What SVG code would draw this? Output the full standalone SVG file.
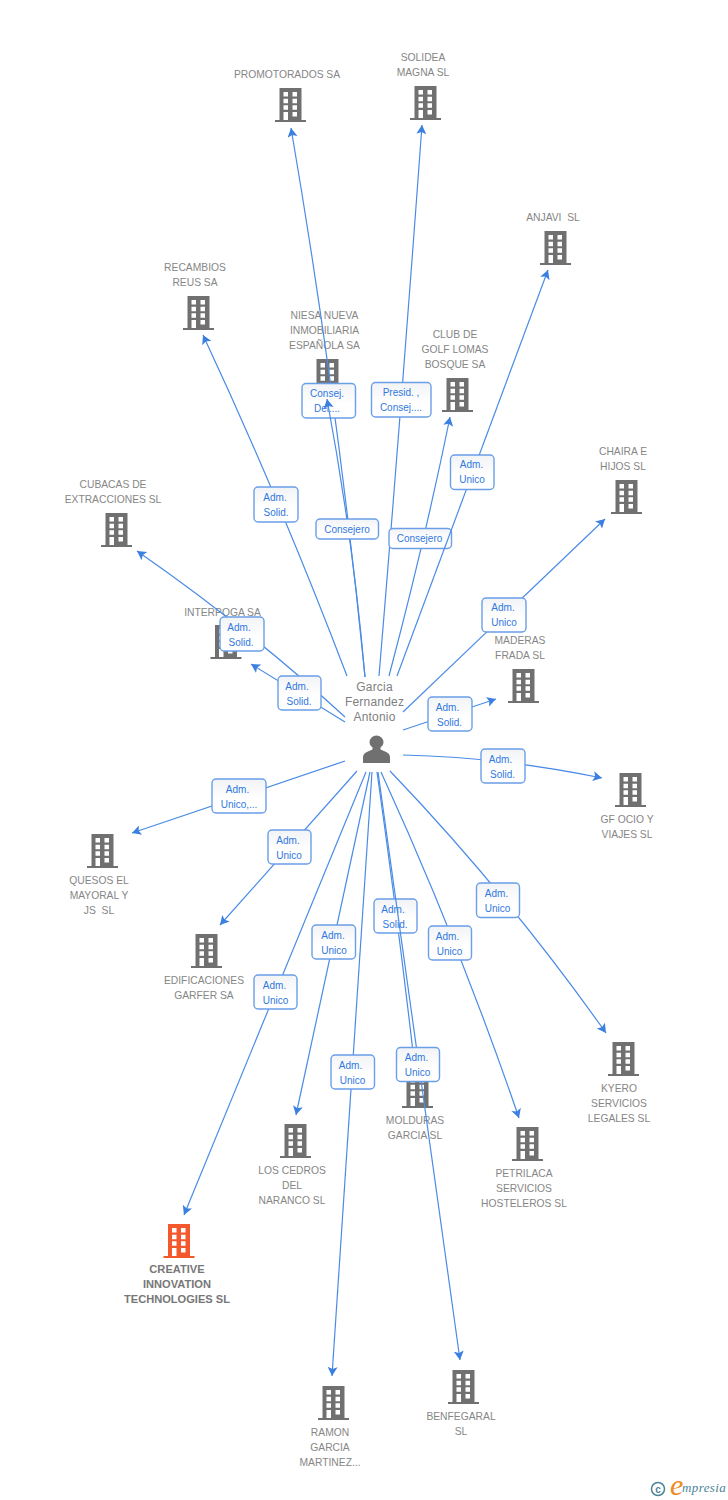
<svg xmlns="http://www.w3.org/2000/svg" width="728" height="1500" viewBox="0 0 728 1500">
<style>
.n{font:10.3px "Liberation Sans",Arial,sans-serif;fill:#868686;text-anchor:middle;white-space:pre}
.c{font:bold 11.1px "Liberation Sans",Arial,sans-serif;fill:#777;text-anchor:middle}
.p{font:12px "Liberation Sans",Arial,sans-serif;fill:#808080;text-anchor:middle;letter-spacing:.2px}
.l{font:10px "Liberation Sans",Arial,sans-serif;fill:#2f78e0;text-anchor:middle}
.e{fill:none;stroke:#4a8be6;stroke-width:1.2;marker-end:url(#a)}
.b{fill:url(#g);stroke:#6a9fe8;stroke-width:1.4}
.bd{color:#707070}
</style>
<defs>
<linearGradient id="g" x1="0" y1="0" x2="0" y2="1"><stop offset="0" stop-color="#f2f3f6"/><stop offset=".6" stop-color="#fff"/></linearGradient>
<marker id="a" markerUnits="userSpaceOnUse" markerWidth="12" markerHeight="12" refX="9" refY="5" orient="auto"><path d="M9 5 L0 0 L2 5 L0 10 Z" fill="#3b7fe0"/></marker>
<symbol id="bld" width="32" height="34" viewBox="0 0 32 34" overflow="visible">
<path fill="currentColor" d="M4.500 0H26.500V32H31V34H0V32H4.500Z"/>
<path fill="#fff" d="M8.500 4h4.500v4.500h-4.500zM17.500 4h4.500v4.500h-4.500zM8.500 10.700h4.500v4.500h-4.500zM17.500 10.700h4.500v4.500h-4.500zM8.500 17.300h4.500v4.500h-4.500zM17.500 17.300h4.500v4.500h-4.500zM8.500 24h4.500v8h-4.500zM17.500 24h4.500v4.500h-4.500z"/>
</symbol>
</defs>
<rect width="728" height="1500" fill="#fff"/>
<g id="node-promotorados" class="bd"><use href="#bld" x="275" y="88"/><text class="n" x="287" y="78">PROMOTORADOS SA</text></g>
<g id="node-solidea" class="bd"><use href="#bld" x="410" y="86"/><text class="n" x="423" y="61">SOLIDEA</text><text class="n" x="423" y="76">MAGNA SL</text></g>
<g id="node-anjavi" class="bd"><use href="#bld" x="540" y="231"/><text class="n" x="553" y="221">ANJAVI  SL</text></g>
<g id="node-recambios" class="bd"><use href="#bld" x="183" y="296"/><text class="n" x="195" y="271">RECAMBIOS</text><text class="n" x="195" y="286">REUS SA</text></g>
<g id="node-niesa" class="bd"><use href="#bld" x="312" y="359"/><text class="n" x="324.500" y="319">NIESA NUEVA</text><text class="n" x="324.500" y="334">INMOBILIARIA</text><text class="n" x="324.500" y="349">ESPAÑOLA SA</text></g>
<g id="node-club" class="bd"><use href="#bld" x="442" y="378"/><text class="n" x="455" y="338">CLUB DE</text><text class="n" x="455" y="353">GOLF LOMAS</text><text class="n" x="455" y="368">BOSQUE SA</text></g>
<g id="node-chaira" class="bd"><use href="#bld" x="611" y="480"/><text class="n" x="623" y="455">CHAIRA E</text><text class="n" x="623" y="470">HIJOS SL</text></g>
<g id="node-cubacas" class="bd"><use href="#bld" x="101" y="513"/><text class="n" x="113" y="488">CUBACAS DE</text><text class="n" x="113" y="503">EXTRACCIONES SL</text></g>
<g id="node-interpoga" class="bd"><use href="#bld" x="210.500" y="625"/><text class="n" x="222.500" y="616">INTERPOGA SA</text></g>
<g id="node-maderas" class="bd"><use href="#bld" x="508" y="669"/><text class="n" x="520" y="644">MADERAS</text><text class="n" x="520" y="659">FRADA SL</text></g>
<g id="node-gfocio" class="bd"><use href="#bld" x="615" y="773"/><text class="n" x="627" y="823">GF OCIO Y</text><text class="n" x="627" y="838">VIAJES SL</text></g>
<g id="node-quesos" class="bd"><use href="#bld" x="87" y="834"/><text class="n" x="99" y="884">QUESOS EL</text><text class="n" x="99" y="899">MAYORAL Y</text><text class="n" x="99" y="914">JS  SL</text></g>
<g id="node-edificaciones" class="bd"><use href="#bld" x="191" y="934"/><text class="n" x="204" y="984">EDIFICACIONES</text><text class="n" x="204" y="999">GARFER SA</text></g>
<g id="node-kyero" class="bd"><use href="#bld" x="608" y="1042"/><text class="n" x="619" y="1092">KYERO</text><text class="n" x="619" y="1107">SERVICIOS</text><text class="n" x="619" y="1122">LEGALES SL</text></g>
<g id="node-molduras" class="bd"><use href="#bld" x="402" y="1074"/><text class="n" x="415" y="1124">MOLDURAS</text><text class="n" x="415" y="1139">GARCIA SL</text></g>
<g id="node-petrilaca" class="bd"><use href="#bld" x="512" y="1127"/><text class="n" x="524" y="1177">PETRILACA</text><text class="n" x="524" y="1192">SERVICIOS</text><text class="n" x="524" y="1207">HOSTELEROS SL</text></g>
<g id="node-cedros" class="bd"><use href="#bld" x="280" y="1124"/><text class="n" x="292" y="1174">LOS CEDROS</text><text class="n" x="292" y="1189">DEL</text><text class="n" x="292" y="1204">NARANCO SL</text></g>
<g id="node-creative" style="color:#f4592e"><use href="#bld" x="163.500" y="1224"/><text class="c" x="177" y="1273">CREATIVE</text><text class="c" x="177" y="1288">INNOVATION</text><text class="c" x="177" y="1303">TECHNOLOGIES SL</text></g>
<g id="node-ramon" class="bd"><use href="#bld" x="318" y="1386"/><text class="n" x="330" y="1436">RAMON</text><text class="n" x="330" y="1451">GARCIA</text><text class="n" x="330" y="1466">MARTINEZ...</text></g>
<g id="node-benfegaral" class="bd"><use href="#bld" x="448" y="1370"/><text class="n" x="461" y="1420">BENFEGARAL</text><text class="n" x="461" y="1435">SL</text></g>
<g id="node-garcia"><text class="p" x="374.500" y="691">Garcia</text><text class="p" x="374.500" y="706">Fernandez</text><text class="p" x="374.500" y="721">Antonio</text><path fill="#707070" d="M363 763V757Q363 753 369 751L372.500 749.500V747.500Q369.500 745.500 369.500 742.500A7 7 0 0 1 383.500 742.500Q383.500 745.500 380.500 747.500V749.500L384 751Q390 753 390 757V763Z"/></g>
<g id="connectors">
<path class="e" d="M365 677Q338 402 291 128"/>
<rect class="b" x="302" y="383.500" width="53.500" height="34.500" rx="4"/><text class="l" x="327" y="396.500">Consej.</text><text class="l" x="327" y="411.500">Del....</text>
<path class="e" d="M365 677Q353 538 327 399"/>
<rect class="b" x="316" y="519" width="62.500" height="20" rx="4"/><text class="l" x="347" y="532.700">Consejero</text>
<path class="e" d="M379 676Q402 400 422 125"/>
<rect class="b" x="371.500" y="382.500" width="59.500" height="34.500" rx="4"/><text class="l" x="401" y="396">Presid. ,</text><text class="l" x="401" y="411">Consej....</text>
<path class="e" d="M389 676Q425 540 450 417"/>
<rect class="b" x="389" y="528.500" width="62.500" height="20" rx="4"/><text class="l" x="419.500" y="542">Consejero</text>
<path class="e" d="M397 676L548 270"/>
<rect class="b" x="450.500" y="455" width="43.500" height="34.500" rx="4"/><text class="l" x="471.500" y="467.700">Adm.</text><text class="l" x="472" y="482.700">Unico</text>
<path class="e" d="M347 676Q280 500 203 335"/>
<rect class="b" x="254" y="487" width="44" height="35" rx="4"/><text class="l" x="275" y="500.700">Adm.</text><text class="l" x="276" y="515.700">Solid.</text>
<path class="e" d="M403 712L605 519"/>
<rect class="b" x="482" y="598" width="44" height="34" rx="4"/><text class="l" x="503" y="611">Adm.</text><text class="l" x="504" y="626">Unico</text>
<path class="e" d="M345 717Q248 628 137 551"/>
<rect class="b" x="220" y="617" width="44" height="34" rx="4"/><text class="l" x="239" y="630.500">Adm.</text><text class="l" x="241" y="645.500">Solid.</text>
<path class="e" d="M345 722L251 664"/>
<rect class="b" x="278" y="676" width="43" height="34" rx="4"/><text class="l" x="297" y="689.500">Adm.</text><text class="l" x="299" y="704.500">Solid.</text>
<path class="e" d="M403 730L496 699"/>
<rect class="b" x="428" y="697" width="44" height="34" rx="4"/><text class="l" x="447.500" y="710.500">Adm.</text><text class="l" x="449.500" y="725.500">Solid.</text>
<path class="e" d="M403 755Q500 757 602 778"/>
<rect class="b" x="481" y="749" width="44" height="34" rx="4"/><text class="l" x="500.500" y="762.500">Adm.</text><text class="l" x="502.500" y="777.500">Solid.</text>
<path class="e" d="M345 761L132 833"/>
<rect class="b" x="212" y="779" width="54" height="34" rx="4"/><text class="l" x="237.500" y="792.500">Adm.</text><text class="l" x="239" y="807.500">Unico,...</text>
<path class="e" d="M357 771L220 925"/>
<rect class="b" x="268" y="830" width="43" height="34" rx="4"/><text class="l" x="288" y="843.500">Adm.</text><text class="l" x="289" y="858.500">Unico</text>
<path class="e" d="M390 771Q506 892 606 1033"/>
<rect class="b" x="476.500" y="883" width="43" height="34.500" rx="4"/><text class="l" x="496.500" y="896.500">Adm.</text><text class="l" x="497.500" y="911.500">Unico</text>
<path class="e" d="M381 772Q458 940 519 1118"/>
<rect class="b" x="428.500" y="926" width="43" height="34" rx="4"/><text class="l" x="447.500" y="939.500">Adm.</text><text class="l" x="449.500" y="954.500">Unico</text>
<path class="e" d="M370 772L296 1115"/>
<rect class="b" x="312" y="925" width="43.500" height="34" rx="4"/><text class="l" x="333" y="938.500">Adm.</text><text class="l" x="334" y="953.500">Unico</text>
<path class="e" d="M366 772L184 1215"/>
<rect class="b" x="254" y="975" width="43" height="34" rx="4"/><text class="l" x="274.500" y="988.500">Adm.</text><text class="l" x="275.500" y="1003.500">Unico</text>
<path class="e" d="M372 772L332 1376"/>
<rect class="b" x="331" y="1055" width="43.500" height="34" rx="4"/><text class="l" x="350.500" y="1068.500">Adm.</text><text class="l" x="352.500" y="1083.500">Unico</text>
<path class="e" d="M377 772Q398 920 416 1078"/>
<rect class="b" x="374" y="899" width="43" height="34" rx="4"/><text class="l" x="393" y="912.500">Adm.</text><text class="l" x="395" y="927.500">Solid.</text>
<path class="e" d="M378 772Q409 1000 460 1360"/>
<rect class="b" x="396.500" y="1047.500" width="43" height="34" rx="4"/><text class="l" x="416.500" y="1061">Adm.</text><text class="l" x="417.500" y="1076">Unico</text>
</g>
<g id="logo">
<circle cx="658" cy="1489" r="6.500" fill="none" stroke="#4a8496" stroke-width="1.5"/>
<text x="658" y="1492.500" font-family="Liberation Sans, sans-serif" font-size="10" font-weight="bold" fill="#4a8496" text-anchor="middle">c</text>
<text x="670" y="1495" font-family="Liberation Serif, serif" font-style="italic" font-size="30" fill="#f08a1d">e</text>
<text x="682" y="1492" font-family="Liberation Serif, serif" font-style="italic" font-size="13" letter-spacing=".4" fill="#4a8496">mpresia</text>
</g>
</svg>
